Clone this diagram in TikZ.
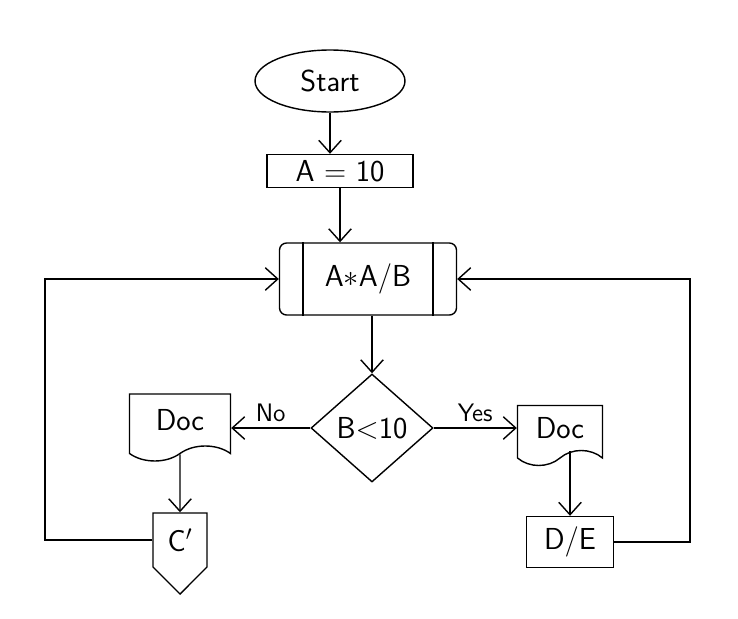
\documentclass[tikz,border=0pt]{standalone}
\usetikzlibrary{shapes.geometric, shapes.symbols, arrows.meta, positioning}
\tikzstyle{arrow} = [thick,->,>={Straight Barb[length=2.5mm,width=4.5mm]}]
\tikzstyle{block} = [draw, thick, font=\sffamily\LARGE, inner sep=2pt]

\begin{document}
\begin{tikzpicture}[x=0.02cm, y=-0.02cm]
        \useasboundingbox (0,0) rectangle (738,619);
        % shapes
        \node[block, ellipse, minimum width=3cm, minimum height=1.24cm] (start) at (330,81) {Start};
        \node[block, rectangle, minimum width=2.92cm, minimum height=0.66cm] (init) at (340,171) {A = 10};
        \node[block, rectangle, rounded corners=4pt, minimum width=3.54cm, minimum height=1.44cm] (proc) at (368,279) {A$\ast$A/B};
        \draw[thick] ([xshift=0.48cm]proc.north west) -- ([xshift=0.48cm]proc.south west);
        \draw[thick] ([xshift=-0.48cm]proc.north east) -- ([xshift=-0.48cm]proc.south east);
        \node[block, diamond, inner sep=0pt, aspect=1.13, minimum width=2.44cm, minimum height=2.16cm] (dec) at (372,428) {B$<$10};
        \node[block, tape, tape bend top=none, tape bend height=0.3cm, minimum width=2.02cm, minimum height=1.34cm] (docl) at (180,420) {Doc};
        \node[block, tape, tape bend top=none, tape bend height=0.3cm, minimum width=1.7cm, minimum height=1.2cm] (docr) at (560,428) {Doc};
        \node[block, signal, signal to=south, signal pointer angle=90, minimum width=1.08cm, minimum height=1.4cm] (conn) at (180,540) {C$'$};
        \node[block, rectangle, minimum width=1.74cm, minimum height=1.02cm] (outr) at (570,542) {D/E};
        \coordinate (lbend) at (45,0);
        \coordinate (rbend) at (690,0);
        % connectors
        \draw[arrow] (start) -- (init.north -| start);
        \draw[arrow] (init) -- (proc.north -| init);
        \draw[arrow] (proc.south -| dec) -- (dec);
        \draw[arrow] (dec.west) -- node[above, font=\sffamily\Large] {No} (dec.west -| docl.east);
        \draw[arrow] (dec.east) -- node[above, font=\sffamily\Large] {Yes} (docr.west |- dec.east);
        \draw[arrow] (docl) -- (conn);
        \draw[arrow] (docr.south -| outr) -- (outr);
        \draw[arrow] (conn.west) -- (conn.west -| lbend) |- (proc.west);
        \draw[arrow] (outr.east) -- (outr.east -| rbend) |- (proc.east);
    \end{tikzpicture}
\end{document}
